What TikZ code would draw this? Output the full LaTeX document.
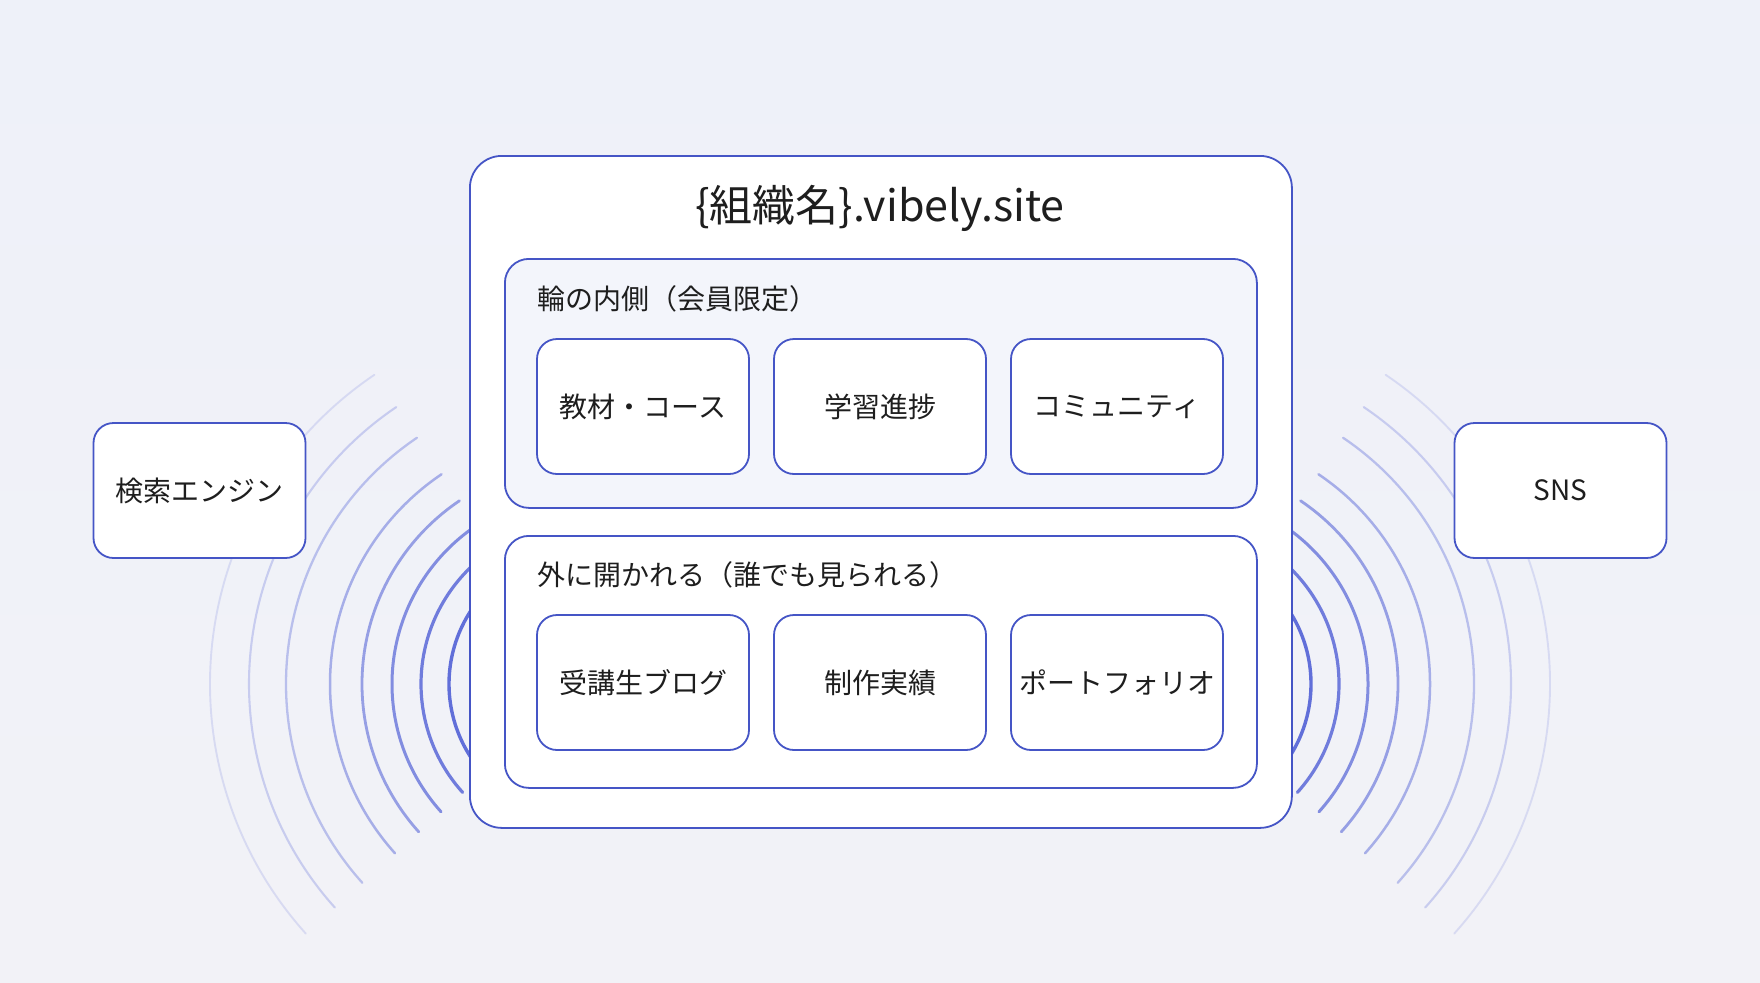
\documentclass[tikz,border=0pt]{standalone}
\usepackage{fontspec}
\setmainfont{Noto Sans CJK JP}
\definecolor{bgtop}{HTML}{EEF1F9}
\definecolor{bgbot}{HTML}{F2F2F7}
\definecolor{edge}{HTML}{4555C6}
\definecolor{wave}{HTML}{5A68D8}
\definecolor{panelfill}{HTML}{F3F5FB}
\definecolor{ink}{HTML}{1E1E1E}
\begin{document}
\begin{tikzpicture}[x=1pt,y=-1pt,
  txt/.style={font=\fontsize{28}{33}\selectfont, text=ink},
  card/.style={txt, draw=edge, line width=1.8pt, fill=white, rounded corners=20pt,
    minimum width=212pt, minimum height=135pt, inner sep=0pt},
  panel/.style={draw=edge, line width=1.8pt, rounded corners=24pt, inner sep=0pt,
    minimum width=752pt, anchor=north west},
  mainbox/.style={draw=edge, line width=1.8pt, fill=white, rounded corners=32pt, inner sep=0pt,
    minimum width=822pt, minimum height=672pt, anchor=north west},
  wavearc/.style={wave, line cap=round}
]
\useasboundingbox (0,0) rectangle (1760,982);
\fill[top color=bgtop, bottom color=bgbot] (0,0) rectangle (1760,982);

% waves
\foreach \r/\op/\w in {134/0.95/3.4, 162/0.85/3.2, 191/0.73/3.0, 221/0.6/2.8, 253/0.49/2.5, 297/0.37/2.3, 334/0.27/2.1, 373/0.17/1.9}{
  \draw[wavearc, opacity=\op, line width=\w] (583,684) ++(138:\r) arc[start angle=138, end angle=236, radius=\r];
  \draw[wavearc, opacity=\op, line width=\w] (1177,684) ++(42:\r) arc[start angle=42, end angle=-56, radius=\r];
}

% main box
\node[mainbox] (main) at (469,155) {};
\node[font=\fontsize{43}{50}\selectfont, text=ink] (title) at (880,208) {\{組織名\}.vibely.site};

% panel 1
\node[panel, fill=panelfill, minimum height=249pt] (inner) at (504,258) {};
\node[txt, anchor=west, inner sep=0pt] (innerlbl) at (537,299) {輪の内側（会員限定）};
\node[card] (kyozai) at (643,406.5) {教材・コース};
\node[card] (gakushu) at (880,406.5) {学習進捗};
\node[card] (comm) at (1117,406.5) {コミュニティ};

% panel 2
\node[panel, fill=white, minimum height=252pt] (outer) at (504,535) {};
\node[txt, anchor=west, inner sep=0pt] (outerlbl) at (537,575) {外に開かれる（誰でも見られる）};
\node[card] (blog) at (643,682.5) {受講生ブログ};
\node[card] (works) at (880,682.5) {制作実績};
\node[card] (pf) at (1117,682.5) {ポートフォリオ};

% outside
\node[card] (search) at (199.5,490.5) {検索エンジン};
\node[card] (sns) at (1560.5,490.5) {SNS};
\end{tikzpicture}
\end{document}
